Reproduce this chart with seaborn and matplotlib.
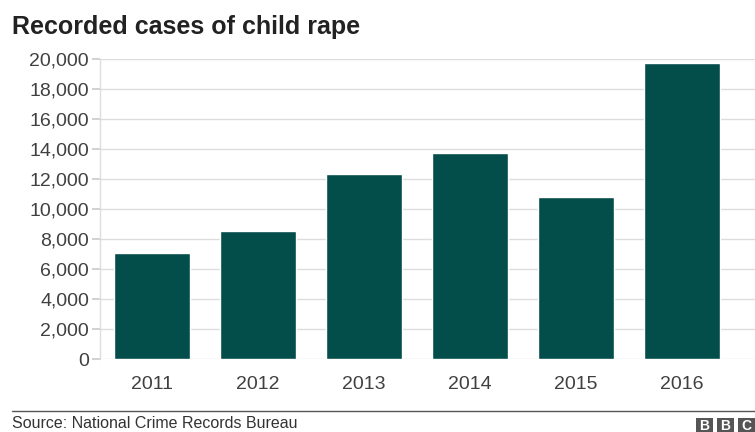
import matplotlib
matplotlib.use("Agg")
import matplotlib.pyplot as plt
import seaborn as sns
import pandas as pd
from matplotlib.ticker import FuncFormatter
from matplotlib.patches import Rectangle

years = ["2011", "2012", "2013", "2014", "2015", "2016"]
cases = [7112, 8541, 12363, 13766, 10854, 19765]
yticks = list(range(0, 20001, 2000))

sns.set_theme(style="white")
plt.rcParams['font.family'] = ['Liberation Sans', 'DejaVu Sans']

df = pd.DataFrame({"year": years, "cases": cases})

fig = plt.figure(figsize=(7.55, 4.32), dpi=100)
ax = fig.add_axes([100/755, 1 - 359.4/432, 1 - 100/755, 300/432])

sns.barplot(data=df, x="year", y="cases", color="#034d4b", saturation=1,
            width=0.717, ax=ax, zorder=3)

ax.set_xlim(-0.49, 5.69)
ax.set_ylim(0, 20000)
ax.set_yticks(yticks)
ax.yaxis.set_major_formatter(FuncFormatter(lambda v, p: f"{int(v):,}"))
ax.grid(axis="y", color="#dddddd", linewidth=1, zorder=0)
ax.set_axisbelow(True)
for s in ["top", "right", "bottom"]:
    ax.spines[s].set_visible(False)
ax.spines["left"].set_color("#dddddd")
ax.spines["left"].set_linewidth(1)
ax.set_xlabel("")
ax.set_ylabel("")
ax.tick_params(axis="y", left=True, length=6, color="#cccccc", labelsize=14,
               labelcolor="#404040", pad=2)
ax.tick_params(axis="x", bottom=False, labelsize=14, labelcolor="#404040", pad=6)

fig.text(12/755, 1 - 27/432, "Recorded cases of child rape", fontsize=18,
         fontweight="bold", color="#222222", va="center", ha="left")

fig.add_artist(plt.Line2D([12/755, 1.0], [1 - 411/432, 1 - 411/432],
                          color="#555555", linewidth=1))
fig.text(12/755, 1 - 424/432, "Source: National Crime Records Bureau", fontsize=11.5,
         color="#333333", va="center", ha="left")

for i, letter in enumerate(["B", "B", "C"]):
    x0 = (696 + i * 21) / 755
    fig.add_artist(Rectangle((x0, 0), 17/755, 14/432, transform=fig.transFigure,
                             facecolor="#555555", edgecolor="none"))
    fig.text(x0 + 8.5/755, 6/432, letter, fontsize=10, fontweight="bold",
             color="white", ha="center", va="center")

fig.savefig("out.png", dpi=100)
